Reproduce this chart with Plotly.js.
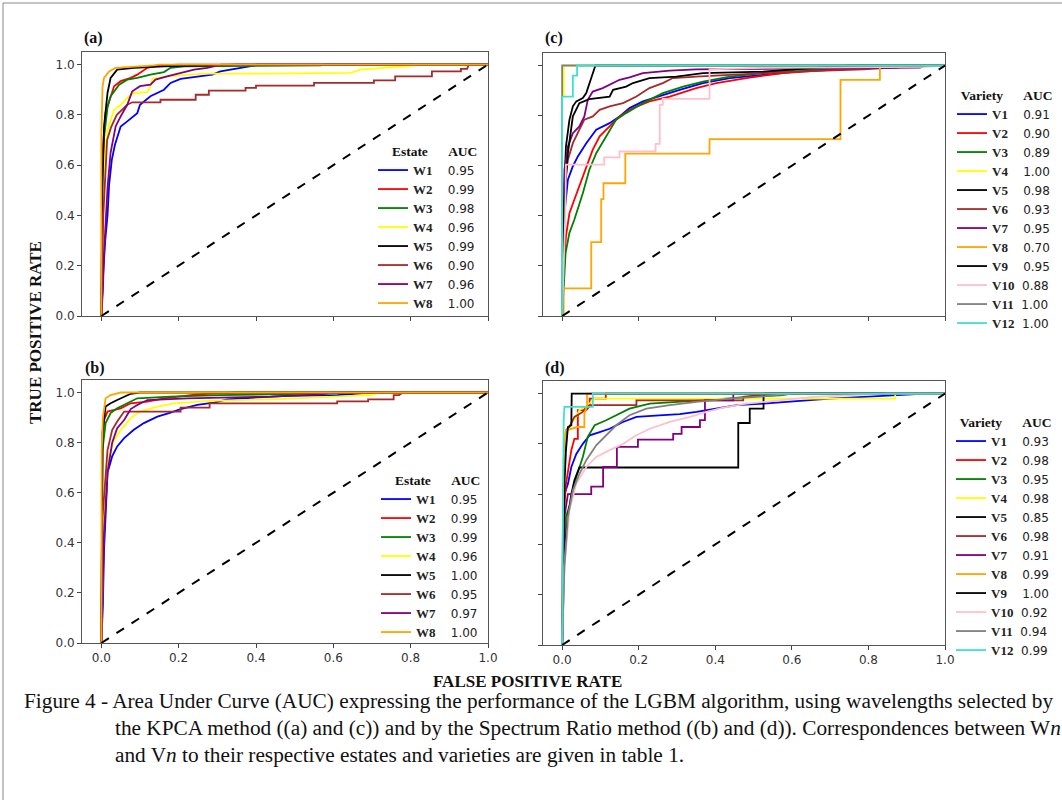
<!DOCTYPE html>
<html>
<head>
<meta charset="utf-8">
<script src="https://cdn.plot.ly/plotly-3.0.1.min.js"></script>
<style>
html,body{margin:0;padding:0;background:#fff;}
#chart{width:1062px;height:800px;}
</style>
</head>
<body>
<div id="chart"></div>
<script>
// ---------- DATA ----------
const estateNames = ['W1','W2','W3','W4','W5','W6','W7','W8'];
const estateColors = ['#0000ff','#ff0000','#008000','#ffff00','#000000','#a52a2a','#800080','#ffa500'];
const aucA = [0.95,0.99,0.98,0.96,0.99,0.90,0.96,1.00];
const aucB = [0.95,0.99,0.99,0.96,1.00,0.95,0.97,1.00];

const varietyNames = ['V1','V2','V3','V4','V5','V6','V7','V8','V9','V10','V11','V12'];
const varietyColors = ['#0000ff','#ff0000','#008000','#ffff00','#000000','#a52a2a','#800080','#ffa500','#000000','#ffc0cb','#808080','#40e0d0'];
const aucC = [0.91,0.90,0.89,1.00,0.98,0.93,0.95,0.70,0.95,0.88,1.00,1.00];
const aucD = [0.93,0.98,0.95,0.98,0.85,0.98,0.91,0.99,1.00,0.92,0.94,0.99];

const chanceFpr = [0,1];
const chanceTpr = [0,1];

// (a) KPCA - estates
const fprA = [
  [0,0.004,0.01,0.016,0.02,0.027,0.035,0.045,0.05,0.067,0.093,0.10,0.127,0.162,0.179,0.205,0.248,0.287,0.308,0.351,0.394,0.40,1],
  [0,0.002,0.003,0.011,0.024,0.033,0.05,0.076,0.093,0.119,0.136,0.153,0.2,1],
  [0,0.002,0.003,0.007,0.016,0.024,0.033,0.046,0.067,0.093,0.127,0.162,0.179,0.214,0.567,0.58,1],
  [0,0.004,0.007,0.016,0.033,0.05,0.067,0.084,0.119,0.127,0.132,0.17,0.265,0.42,0.644,0.67,0.748,0.808,0.81,1],
  [0,0.002,0.003,0.007,0.016,0.024,0.041,0.084,0.162,0.28,0.35,1],
  [0,0.005,0.015,0.025,0.04,0.067,0.08,0.153,0.153,0.244,0.244,0.278,0.278,0.373,0.373,0.40,0.40,0.55,0.55,0.705,0.705,0.76,0.76,0.855,0.855,0.93,0.93,0.946,0.95,1],
  [0,0.004,0.007,0.016,0.024,0.037,0.05,0.067,0.08,0.10,0.127,0.14,0.17,0.205,0.24,0.274,0.30,0.31,1],
  [0,0,0.003,0.007,0.02,0.037,0.136,0.15,1]
];
const tprA = [
  [0,0.15,0.3,0.4,0.52,0.62,0.68,0.73,0.754,0.774,0.807,0.84,0.874,0.90,0.927,0.943,0.951,0.96,0.973,0.983,0.996,1,1],
  [0,0.4,0.65,0.81,0.874,0.914,0.934,0.947,0.96,0.987,0.993,0.997,1,1],
  [0,0.3,0.51,0.71,0.83,0.874,0.894,0.92,0.94,0.947,0.96,0.97,0.987,0.993,0.997,1,1],
  [0,0.4,0.61,0.74,0.82,0.84,0.867,0.887,0.89,0.914,0.943,0.953,0.964,0.964,0.967,0.98,0.99,0.996,1,1],
  [0,0.3,0.51,0.754,0.887,0.947,0.98,0.987,0.993,0.997,1,1],
  [0,0.4,0.7,0.75,0.8,0.84,0.85,0.85,0.86,0.86,0.88,0.88,0.896,0.896,0.907,0.907,0.916,0.916,0.927,0.927,0.937,0.937,0.953,0.953,0.973,0.973,0.983,0.983,1,1],
  [0,0.1,0.25,0.51,0.65,0.754,0.794,0.84,0.894,0.914,0.92,0.94,0.953,0.967,0.98,0.987,0.996,1,1],
  [0,0.71,0.91,0.947,0.973,0.987,0.997,1,1]
];

// (b) Spectrum Ratio - estates
const fprB = [
  [0,0.004,0.007,0.016,0.028,0.041,0.059,0.084,0.11,0.145,0.179,0.205,0.248,0.291,0.326,0.403,0.48,0.61,0.68,0.70,1],
  [0,0.002,0.003,0.007,0.016,0.05,0.076,0.119,0.162,0.248,0.308,0.35,1],
  [0,0.002,0.003,0.011,0.024,0.041,0.067,0.093,0.179,0.308,0.61,0.65,1],
  [0,0.004,0.007,0.02,0.033,0.05,0.076,0.10,0.145,0.188,0.283,0.44,0.59,0.696,0.72,1],
  [0,0.002,0.003,0.011,0.024,0.041,0.059,0.076,0.10,1],
  [0,0.002,0.003,0.016,0.028,0.041,0.059,0.205,0.205,0.28,0.28,0.61,0.61,0.69,0.69,0.756,0.756,0.77,0.78,1],
  [0,0.004,0.007,0.016,0.028,0.041,0.059,0.076,0.093,0.119,0.222,0.44,0.567,0.60,1],
  [0,0,0.001,0.004,0.011,0.024,0.041,0.05,1]
];
const tprB = [
  [0,0.15,0.37,0.68,0.745,0.785,0.818,0.851,0.878,0.904,0.92,0.934,0.951,0.96,0.973,0.98,0.987,0.99,0.997,1,1],
  [0,0.5,0.77,0.89,0.924,0.937,0.957,0.964,0.977,0.993,0.997,1,1],
  [0,0.5,0.77,0.878,0.918,0.937,0.957,0.977,0.984,0.99,0.997,1,1],
  [0,0.3,0.57,0.745,0.81,0.85,0.898,0.924,0.944,0.957,0.967,0.973,0.984,0.99,1,1],
  [0,0.5,0.84,0.944,0.957,0.97,0.984,0.995,1,1],
  [0,0.3,0.5,0.77,0.85,0.884,0.924,0.924,0.94,0.94,0.957,0.957,0.965,0.965,0.973,0.973,0.99,0.99,1,1],
  [0,0.2,0.44,0.68,0.80,0.858,0.89,0.934,0.95,0.97,0.977,0.984,0.993,1,1],
  [0,0.5,0.77,0.9,0.977,0.99,0.997,1,1]
];

// (c) KPCA - varieties
const fprC = [
  [0,0.003,0.006,0.015,0.028,0.041,0.063,0.089,0.124,0.15,0.176,0.211,0.263,0.307,0.368,0.438,0.525,0.612,0.70,0.874,0.95,1],
  [0,0.002,0.004,0.01,0.019,0.032,0.045,0.063,0.08,0.098,0.124,0.15,0.185,0.228,0.281,0.35,0.403,0.481,0.577,0.70,0.83,0.90,1],
  [0,0.002,0.004,0.009,0.019,0.032,0.054,0.071,0.089,0.115,0.141,0.167,0.211,0.263,0.316,0.368,0.438,0.525,0.612,0.743,0.78,1],
  [0,0,0.004,0.004,1],
  [0,0.003,0.006,0.01,0.015,0.019,0.028,0.037,0.054,0.063,0.076,0.085,0.087,1],
  [0,0.003,0.006,0.015,0.028,0.045,0.058,0.08,0.098,0.124,0.159,0.194,0.228,0.263,0.289,0.35,0.438,0.612,0.786,0.95,1],
  [0,0.003,0.006,0.015,0.028,0.045,0.058,0.067,0.08,0.106,0.133,0.15,0.176,0.211,0.281,0.35,0.935,0.95,1],
  [0,0.004,0.004,0.076,0.076,0.102,0.102,0.108,0.108,0.165,0.165,0.385,0.385,0.727,0.727,0.83,0.83,1],
  [0,0.005,0.015,0.028,0.045,0.071,0.124,0.133,0.167,0.185,0.228,0.298,0.368,0.525,0.664,0.70,0.75,1],
  [0,0.008,0.01,0.11,0.11,0.15,0.15,0.244,0.244,0.255,0.255,0.263,0.263,0.385,0.385,0.5,0.95,1],
  [0,0,1],
  [0,0,0.028,0.028,0.039,0.039,1]
];
const tprC = [
  [0,0.2,0.41,0.544,0.598,0.637,0.69,0.744,0.77,0.797,0.83,0.857,0.883,0.903,0.93,0.95,0.963,0.976,0.985,0.993,1,1],
  [0,0.1,0.186,0.319,0.41,0.465,0.518,0.598,0.664,0.717,0.757,0.797,0.83,0.857,0.876,0.91,0.93,0.95,0.97,0.983,0.992,1,1],
  [0,0.05,0.12,0.252,0.332,0.385,0.49,0.584,0.65,0.717,0.784,0.81,0.85,0.89,0.916,0.936,0.956,0.97,0.983,0.992,1,1],
  [0,0.88,0.88,1,1],
  [0,0.3,0.53,0.677,0.73,0.783,0.837,0.857,0.87,0.89,0.95,0.99,1,1],
  [0,0.3,0.518,0.624,0.69,0.744,0.784,0.797,0.823,0.837,0.85,0.876,0.91,0.93,0.95,0.956,0.963,0.976,0.985,1,1],
  [0,0.3,0.584,0.677,0.73,0.757,0.797,0.863,0.896,0.91,0.93,0.943,0.953,0.97,0.98,0.985,0.992,1,1],
  [0,0,0.11,0.11,0.295,0.295,0.467,0.467,0.53,0.53,0.648,0.648,0.706,0.706,0.943,0.943,1,1],
  [0,0.45,0.65,0.797,0.85,0.866,0.876,0.903,0.916,0.93,0.95,0.956,0.97,0.976,0.992,0.996,1,1],
  [0,0.4,0.604,0.604,0.633,0.633,0.657,0.657,0.687,0.687,0.843,0.843,0.867,0.867,0.985,0.99,0.995,1],
  [0,1,1],
  [0,0.876,0.876,0.96,0.96,1,1]
];

// (d) Spectrum Ratio - varieties
const fprD = [
  [0,0.002,0.006,0.015,0.024,0.037,0.054,0.072,0.098,0.124,0.159,0.194,0.264,0.307,0.351,0.403,0.456,0.526,0.613,0.70,0.788,0.875,0.95,1],
  [0,0.004,0.01,0.019,0.024,0.032,0.041,0.041,0.063,0.072,0.072,0.114,0.114,1],
  [0,0.004,0.01,0.024,0.037,0.054,0.067,0.085,0.115,0.141,0.176,0.229,0.307,0.395,0.482,0.57,0.6,1],
  [0,0.003,0.006,0.019,0.037,0.045,0.067,0.085,0.87,0.87,1],
  [0,0.003,0.006,0.015,0.024,0.032,0.045,0.46,0.46,0.49,0.49,0.526,0.526,0.53,1],
  [0,0.004,0.01,0.019,0.032,0.045,0.054,0.063,0.072,0.194,0.194,0.473,0.473,0.55,1],
  [0,0.004,0.006,0.015,0.076,0.076,0.107,0.107,0.143,0.143,0.198,0.198,0.29,0.29,0.312,0.312,0.36,0.36,0.373,0.373,0.447,0.447,1],
  [0,0.004,0.01,0.04,0.058,0.058,0.065,0.065,1],
  [0,0.003,0.006,0.01,0.015,0.024,0.025,1],
  [0,0.003,0.006,0.019,0.037,0.063,0.089,0.124,0.159,0.194,0.229,0.281,0.334,0.377,0.421,0.482,0.569,0.657,0.788,0.85,1],
  [0,0.003,0.006,0.015,0.028,0.045,0.063,0.089,0.115,0.141,0.176,0.22,0.281,0.351,0.438,0.526,0.6,1],
  [0,0.002,0.004,0.006,0.08,0.08,1]
];
const tprD = [
  [0,0.51,0.6,0.64,0.708,0.76,0.8,0.834,0.847,0.86,0.887,0.907,0.914,0.918,0.927,0.94,0.954,0.96,0.971,0.98,0.987,0.993,1,1],
  [0,0.51,0.64,0.735,0.775,0.82,0.82,0.934,0.934,0.95,0.98,0.98,1,1],
  [0,0.377,0.51,0.576,0.668,0.748,0.828,0.874,0.894,0.914,0.94,0.96,0.967,0.976,0.987,0.993,1,1],
  [0,0.6,0.84,0.874,0.907,0.934,0.954,0.98,0.98,1,1],
  [0,0.2,0.377,0.51,0.6,0.655,0.706,0.706,0.883,0.883,0.94,0.94,0.987,1,1],
  [0,0.64,0.854,0.867,0.907,0.92,0.927,0.947,0.954,0.954,0.973,0.973,0.987,1,1],
  [0,0.3,0.51,0.6,0.6,0.63,0.63,0.708,0.708,0.788,0.788,0.817,0.817,0.84,0.84,0.867,0.867,0.894,0.894,0.973,0.973,1,1],
  [0,0.735,0.854,0.867,0.867,0.92,0.95,1,1],
  [0,0.4,0.64,0.775,0.867,0.874,1,1],
  [0,0.15,0.31,0.536,0.642,0.708,0.748,0.775,0.8,0.834,0.86,0.887,0.907,0.927,0.944,0.96,0.974,0.987,0.996,1,1],
  [0,0.15,0.31,0.51,0.615,0.68,0.735,0.794,0.834,0.874,0.914,0.94,0.954,0.967,0.98,0.989,1,1],
  [0,0.775,0.894,0.947,0.947,1,1]
];

const tickVals = [0,0.2,0.4,0.6,0.8,1.0];

// ---------- BUILD ----------
const NB = '\u00A0';
function label(name, auc){
  const pad = NB.repeat(name.length > 2 ? 2 : 4);
  return '<span style="font-family:Liberation Serif;font-weight:bold;font-size:13px">' + name + '</span>' + pad + auc.toFixed(2);
}

const traces = [];
function addPanel(names, colors, aucs, fprs, tprs, xa, ya, leg){
  for (let i = 0; i < names.length; i++){
    traces.push({
      type:'scatter', mode:'lines', x:fprs[i], y:tprs[i],
      xaxis:xa, yaxis:ya, legend:leg,
      name:label(names[i], aucs[i]),
      line:{color:colors[i], width:1.8},
      hoverinfo:'skip'
    });
  }
  traces.push({
    type:'scatter', mode:'lines', x:chanceFpr, y:chanceTpr,
    xaxis:xa, yaxis:ya, showlegend:false,
    line:{color:'#000000', width:2, dash:'dash'}, hoverinfo:'skip'
  });
}
addPanel(estateNames, estateColors, aucA, fprA, tprA, 'x', 'y', 'legend');
addPanel(estateNames, estateColors, aucB, fprB, tprB, 'x2', 'y2', 'legend2');
addPanel(varietyNames, varietyColors, aucC, fprC, tprC, 'x3', 'y3', 'legend3');
addPanel(varietyNames, varietyColors, aucD, fprD, tprD, 'x4', 'y4', 'legend4');

const W = 1062, H = 800;
const px = v => v / W;
const py = v => 1 - v / H;

function xAxis(x0, x1, anchor, labels){
  return {domain:[px(x0), px(x1)], anchor:anchor, range:[-0.05, 1.0],
    tickmode:'array', tickvals:tickVals, ticktext:tickVals.map(v=>v.toFixed(1)),
    showticklabels:labels, ticks:'outside', ticklen:4, tickcolor:'#444',
    showline:true, mirror:true, linecolor:'#555', linewidth:1,
    showgrid:false, zeroline:false,
    tickfont:{family:'DejaVu Sans', size:12, color:'#333'}};
}
function yAxis(yTop, yBot, anchor, labels){
  return {domain:[py(yBot), py(yTop)], anchor:anchor, range:[0, 1.05],
    tickmode:'array', tickvals:tickVals, ticktext:tickVals.map(v=>v.toFixed(1)),
    showticklabels:labels, ticks:'outside', ticklen:4, tickcolor:'#444',
    showline:true, mirror:true, linecolor:'#555', linewidth:1,
    showgrid:false, zeroline:false,
    tickfont:{family:'DejaVu Sans', size:12, color:'#333'}};
}

function legendObj(x, yTop, titleText){
  return {x:px(x), y:py(yTop), xanchor:'left', yanchor:'top',
    bgcolor:'rgba(0,0,0,0)', borderwidth:0,
    font:{family:'DejaVu Sans', size:12, color:'#222'},
    title:{text:titleText, font:{family:'Liberation Serif', size:13.5, color:'#111'}},
    traceorder:'normal', itemclick:false, itemdoubleclick:false};
}
const estTitle = NB.repeat(5) + '<b>Estate</b>' + NB.repeat(6) + '<b>AUC</b>';
const varTitle = NB.repeat(2) + '<b>Variety</b>' + NB.repeat(6) + '<b>AUC</b>';

const serif = 'Liberation Serif';
const annotations = [
  {text:'<b>(a)</b>', x:px(82), y:py(38)},
  {text:'<b>(b)</b>', x:px(83), y:py(368)},
  {text:'<b>(c)</b>', x:px(543), y:py(38)},
  {text:'<b>(d)</b>', x:px(543), y:py(368)}
].map(a => Object.assign(a, {xref:'paper', yref:'paper', xanchor:'left', yanchor:'middle', showarrow:false, font:{family:serif, size:16, color:'#111'}}));

annotations.push({text:'<b>TRUE POSITIVE RATE</b>', x:px(35), y:py(333), xref:'paper', yref:'paper',
  xanchor:'center', yanchor:'middle',
  showarrow:false, textangle:-90, font:{family:serif, size:17, color:'#111'}});
annotations.push({text:'<b>FALSE POSITIVE RATE</b>', x:px(527), y:py(681), xref:'paper', yref:'paper',
  xanchor:'center', yanchor:'middle',
  showarrow:false, font:{family:serif, size:17, color:'#111'}});

const captionLines = [
  'Figure 4 - Area Under Curve (AUC) expressing the performance of the LGBM algorithm, using wavelengths selected by',
  'the KPCA method ((a) and (c)) and by the Spectrum Ratio method ((b) and (d)). Correspondences between W<i>n</i>',
  'and V<i>n</i> to their respective estates and varieties are given in table 1.'
];
const capX = [22, 113, 113];
const capY = [701, 728, 755];
captionLines.forEach((t, i) => annotations.push({text:t, x:px(capX[i]), y:py(capY[i]), xref:'paper', yref:'paper',
  xanchor:'left', yanchor:'middle', showarrow:false, align:'left', font:{family:serif, size:21.3, color:'#111'}}));

const layout = {
  width:W, height:H, margin:{l:0, r:0, t:0, b:0},
  paper_bgcolor:'#ffffff', plot_bgcolor:'#ffffff',
  font:{family:'DejaVu Sans', size:12, color:'#333'},
  showlegend:true,
  xaxis: xAxis(82, 488, 'y', false),
  yaxis: yAxis(52, 316, 'x', true),
  xaxis2: xAxis(82, 488, 'y2', true),
  yaxis2: yAxis(380, 643, 'x2', true),
  xaxis3: xAxis(543, 945, 'y3', false),
  yaxis3: yAxis(53, 316, 'x3', false),
  xaxis4: xAxis(543, 945, 'y4', true),
  yaxis4: yAxis(381, 645, 'x4', false),
  legend: legendObj(373, 138, estTitle),
  legend2: legendObj(376, 467, estTitle),
  legend3: legendObj(952, 82, varTitle),
  legend4: legendObj(951, 409, varTitle),
  annotations: annotations,
  shapes:[
    {type:'line', xref:'paper', yref:'paper', x0:px(3), x1:px(3), y0:-0.01, y1:py(3), line:{color:'#888', width:1}},
    {type:'line', xref:'paper', yref:'paper', x0:px(3), x1:1.01, y0:py(3), y1:py(3), line:{color:'#888', width:1}}
  ]
};

Plotly.newPlot('chart', traces, layout, {displayModeBar:false, staticPlot:true});
</script>
</body>
</html>
